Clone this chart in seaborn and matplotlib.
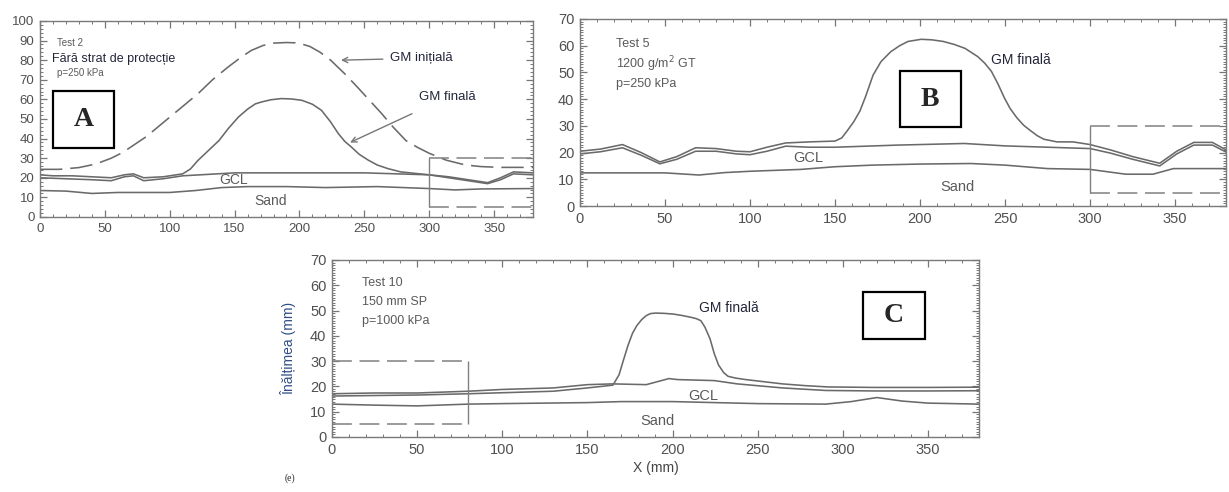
import matplotlib
matplotlib.use("Agg")
import matplotlib.pyplot as plt
from matplotlib.patches import Rectangle
from matplotlib.ticker import MultipleLocator
import seaborn as sns

# Panel A - Test 2, fara strat de protectie
a_init_x = [0, 15, 30, 43, 55, 64, 73, 82, 92, 102, 112, 122, 133, 145, 155, 163, 172, 180, 190, 199,
            208, 216, 224, 235, 245, 254, 263, 272, 282, 291, 300, 313, 328, 340, 355, 380]
a_init_y = [24.3, 24.3, 25.2, 27, 30, 33, 37, 41, 46.5, 52, 57.5, 63, 70, 76.5, 81.5, 85, 87.5, 88.7, 89, 88.8,
            87, 84, 80, 73, 66, 59.5, 53, 46, 39, 35.5, 32.5, 29, 26.5, 25.7, 25.3, 25.3]
a_gm_x = [0, 10, 25, 40, 55, 65, 72, 80, 95, 110, 116, 122, 130, 138, 145, 153, 160, 166, 171, 178, 186,
          194, 202, 210, 217, 224, 230, 235, 240, 246, 253, 260, 268, 278, 300, 315, 330, 345, 355, 365, 380]
a_gm_y = [21.5, 21, 21, 20.5, 20, 21.5, 22, 20, 20.5, 22, 24.5, 29, 34, 39, 45, 51, 55, 57.7, 58.7, 59.8, 60.4,
          60.2, 59.5, 57.5, 54.4, 48.5, 42.5, 38.5, 35.7, 32, 29, 26.5, 24.7, 23, 21.5, 20.5, 19, 17.5, 20, 23, 22.5]
a_gcl_x = [0, 20, 40, 55, 65, 72, 80, 95, 110, 150, 200, 250, 300, 315, 330, 345, 355, 365, 380]
a_gcl_y = [20, 19.5, 19, 18.5, 20.5, 21, 18.5, 19.5, 21, 22.5, 22.5, 22.5, 21.5, 20, 18.5, 17, 19, 22, 21.5]
a_sand_x = [0, 20, 40, 60, 80, 100, 120, 140, 160, 190, 220, 260, 300, 320, 340, 380]
a_sand_y = [13.5, 13.2, 12, 12.5, 12.5, 12.5, 13.5, 15, 15.5, 15.5, 15, 15.5, 14.5, 13.8, 14.3, 14.5]

# Panel B - Test 5, 1200 g/m2 GT
b_gm_x = [0, 12, 25, 36, 47, 57, 68, 80, 92, 100, 110, 121, 135, 150, 154, 157, 161, 164.7, 168, 172.4, 177,
          182.7, 188, 193, 200.7, 207, 213.6, 220, 226.5, 234, 238, 242, 246, 249.6, 253, 257, 261, 265, 269,
          272.8, 280.5, 290, 300, 312, 325, 341, 351, 361, 372, 380]
b_gm_y = [20.5, 21.3, 23, 20, 16.5, 18.5, 21.8, 21.5, 20.5, 20.3, 22, 23.6, 24, 24.3, 25.5, 28, 31.5, 35.6, 41, 49, 54,
          57.7, 60, 61.6, 62.4, 62.2, 61.6, 60.5, 59, 55.9, 53.5, 50.4, 45.5, 40.5, 36.5, 33, 30.2, 28.2, 26.3,
          25, 24, 24, 23, 21, 18.5, 16, 20.5, 23.8, 23.8, 21]
b_gcl_x = [0, 12, 25, 36, 47, 57, 68, 80, 92, 100, 110, 121, 135, 150, 187, 226, 250, 275, 300, 312,
           325, 341, 351, 361, 372, 380]
b_gcl_y = [19.5, 20.3, 21.8, 19, 15.8, 17.5, 20.5, 20.5, 19.5, 19.2, 20.5, 22.4, 22, 22, 22.8, 23.4, 22.5, 22, 21.5, 19.8,
           17.5, 15, 19.5, 22.8, 22.8, 20.2]
b_sand_x = [0, 25, 50, 70, 85, 100, 130, 150, 172, 200, 230, 250, 275, 300, 321, 337, 349, 361, 380]
b_sand_y = [12.4, 12.4, 12.4, 11.6, 12.5, 13, 13.7, 14.7, 15.3, 15.7, 15.9, 15.3, 14, 13.7, 11.9, 11.9, 14, 14, 14]

# Panel C - Test 10, 150 mm SP
c_gm_x = [0, 25, 50, 80, 100, 130, 150, 165, 168.6, 171, 173.9, 176.5, 179, 182, 184.6, 187, 190, 195, 200.6,
          206, 211, 214, 216.6, 219, 222, 224.5, 227, 230, 232.6, 237, 243, 264.6, 278, 291, 318, 350, 380]
c_gm_y = [16.2, 16.4, 16.6, 17.1, 17.5, 18.1, 19.4, 20.5, 24.6, 30, 36.3, 41, 44, 46.5, 48, 48.8, 49, 48.9, 48.6,
          48, 47.3, 46.8, 46, 43.5, 38.9, 33, 28.5, 25.5, 24, 23.3, 22.7, 21, 20.3, 19.8, 19.6, 19.6, 19.7]
c_gcl_x = [0, 25, 50, 80, 100, 130, 150, 165, 184.6, 197.9, 203, 224.6, 238, 264.6, 290, 320, 350, 380]
c_gcl_y = [17.1, 17.4, 17.4, 18.1, 18.8, 19.4, 20.7, 21, 20.7, 23.1, 22.7, 22.3, 21, 19.4, 18.4, 18.2, 18.2, 18.3]
c_sand_x = [0, 25, 50, 80, 100, 150, 170, 200, 250, 290, 305, 320, 335, 350, 380]
c_sand_y = [13, 12.6, 12.3, 13, 13.2, 13.6, 14, 14, 13.2, 13, 14, 15.6, 14.2, 13.4, 13]

sns.set_style("ticks")
plt.rcParams['font.family'] = ['Liberation Sans', 'DejaVu Sans']

LINE = '#6a6a6a'
DARK = '#23263a'
GREY = '#5a5a5a'

fig = plt.figure(figsize=(12.29, 4.92), dpi=100)
axA = fig.add_axes([0.0325, 0.559, 0.4012, 0.3984])
axB = fig.add_axes([0.4719, 0.5813, 0.5257, 0.3801])
axC = fig.add_axes([0.2701, 0.1118, 0.5265, 0.3598])


def style(ax, ymax, ystep, yminor, fs):
    ax.set_xlim(0, 380)
    ax.set_ylim(0, ymax)
    ax.xaxis.set_major_locator(MultipleLocator(50))
    ax.xaxis.set_minor_locator(MultipleLocator(10))
    ax.yaxis.set_major_locator(MultipleLocator(ystep))
    ax.yaxis.set_minor_locator(MultipleLocator(yminor))
    ax.tick_params(which='both', direction='in', top=True, right=True, color='#777777',
                   labelsize=fs, labelcolor='#505050', pad=4)
    ax.tick_params(which='major', length=5, width=0.9)
    ax.tick_params(which='minor', length=2.5, width=0.7)
    for s in ax.spines.values():
        s.set_color('#7a7a7a')
        s.set_linewidth(1.0)
    ax.set_xlabel('')
    ax.set_ylabel('')


def line(ax, x, y, **kw):
    sns.lineplot(x=x, y=y, ax=ax, color=LINE, lw=1.15, estimator=None, **kw)


def letter_box(ax, x0, y0, w, h, letter):
    ax.add_patch(Rectangle((x0, y0), w, h, fill=True, facecolor='white', edgecolor='black', lw=1.6, zorder=5))
    ax.text(x0 + w / 2, y0 + h / 2, letter, ha='center', va='center', fontsize=20, fontweight='bold',
            family='Liberation Serif', zorder=6)


def zoom_box(ax, x0, x1, solid_x):
    ax.hlines([5, 30], x0, x1, colors='#808080', lw=1.1, linestyles=[(0, (13, 5))])
    ax.vlines(solid_x, 5, 30, colors='#808080', lw=1.0)


# --- A ---
line(axA, a_init_x, a_init_y, linestyle=(0, (14, 5)))
line(axA, a_gm_x, a_gm_y)
line(axA, a_gcl_x, a_gcl_y)
line(axA, a_sand_x, a_sand_y)
zoom_box(axA, 300, 380, 300)
style(axA, 100, 10, 2, 9.5)
axA.text(13, 87, 'Test 2', fontsize=7, color=GREY)
axA.text(9, 79, 'Fără strat de protecție', fontsize=9, color=DARK)
axA.text(13, 72, 'p=250 kPa', fontsize=7, color=GREY)
axA.annotate('GM inițială', xy=(232, 80), xytext=(270, 81), fontsize=9.5, color=DARK, va='center',
             arrowprops=dict(arrowstyle='->', color='#777777', lw=1.0, shrinkA=3, shrinkB=0))
axA.annotate('GM finală', xy=(239, 38), xytext=(292, 61), fontsize=9.5, color=DARK, va='center',
             arrowprops=dict(arrowstyle='->', color='#777777', lw=1.0, shrinkA=12, shrinkB=0))
axA.text(149, 19, 'GCL', fontsize=10, color=GREY, ha='center', va='center')
axA.text(178, 8, 'Sand', fontsize=10, color=GREY, ha='center', va='center')
letter_box(axA, 10, 35.2, 47.4, 29.1, 'A')

# --- B ---
line(axB, b_gm_x, b_gm_y)
line(axB, b_gcl_x, b_gcl_y)
line(axB, b_sand_x, b_sand_y)
zoom_box(axB, 300, 380, 300)
style(axB, 70, 10, 1, 10.5)
axB.text(21, 60.5, 'Test 5', fontsize=9, color=GREY, va='center')
axB.text(21, 53.2, '1200 g/m$^2$ GT', fontsize=9, color=GREY, va='center')
axB.text(21, 45.8, 'p=250 kPa', fontsize=9, color=GREY, va='center')
axB.text(242, 54.5, 'GM finală', fontsize=10, color=DARK, va='center')
axB.text(134, 18, 'GCL', fontsize=10.5, color=GREY, ha='center', va='center')
axB.text(222, 7, 'Sand', fontsize=10.5, color=GREY, ha='center', va='center')
letter_box(axB, 188, 29.5, 36, 21, 'B')

# --- C ---
line(axC, c_gm_x, c_gm_y)
line(axC, c_gcl_x, c_gcl_y)
line(axC, c_sand_x, c_sand_y)
zoom_box(axC, 0, 80, 80)
style(axC, 70, 10, 1, 10.5)
axC.text(17.5, 60.8, 'Test 10', fontsize=9, color=GREY, va='center')
axC.text(17.5, 53.5, '150 mm SP', fontsize=9, color=GREY, va='center')
axC.text(17.5, 45.8, 'p=1000 kPa', fontsize=9, color=GREY, va='center')
axC.text(233, 51.2, 'GM finală', fontsize=10, color=DARK, ha='center', va='center')
axC.text(218, 16.2, 'GCL', fontsize=10.5, color=GREY, ha='center', va='center')
axC.text(191, 6.5, 'Sand', fontsize=10.5, color=GREY, ha='center', va='center')
letter_box(axC, 312, 38.6, 36, 18.8, 'C')
axC.set_xlabel('X (mm)', fontsize=10, color='#444444', labelpad=3)
axC.set_ylabel('Înălțimea (mm)', fontsize=10, color='#2f4f86', labelpad=10)
fig.text(285 / 1229, 1 - 478 / 492, '(e)', fontsize=7, family='Liberation Serif', va='center')

fig.savefig('out.png', dpi=100)
